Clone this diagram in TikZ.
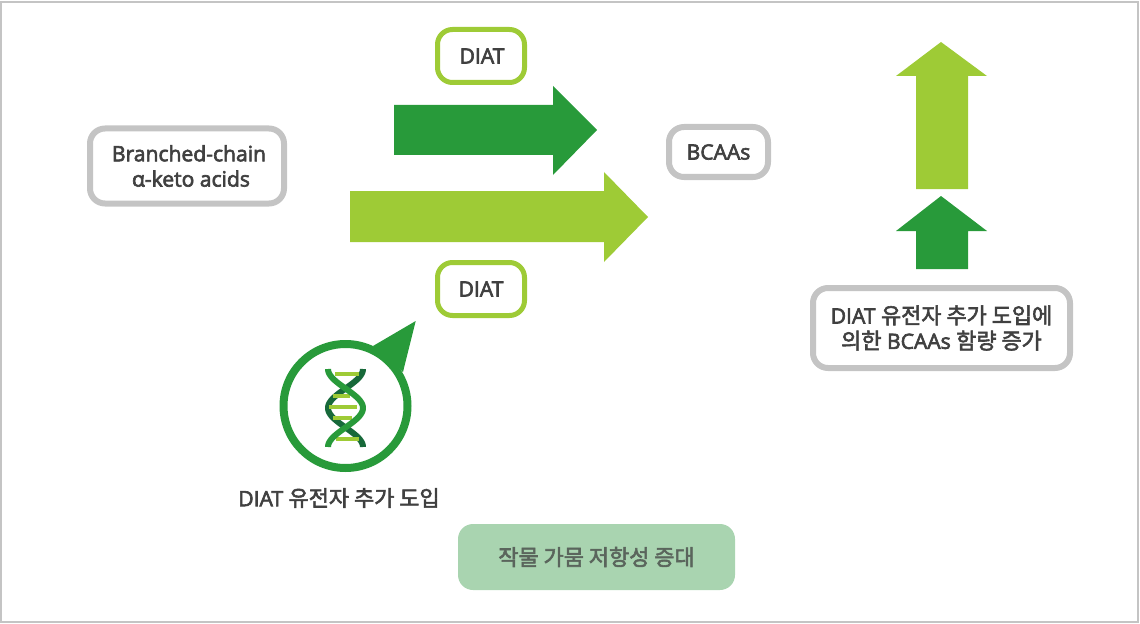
\documentclass[tikz,border=0pt]{standalone}
\usepackage{fontspec}
\setmainfont{Open Sans}[FakeBold=3]
\newfontfamily\krfont{Noto Sans CJK KR}[FakeBold=2.6]
\usetikzlibrary{positioning}
\definecolor{figgray}{HTML}{C4C4C4}
\definecolor{figlime}{HTML}{9ECB36}
\definecolor{figgreen}{HTML}{289A3A}
\definecolor{figdark}{HTML}{17693A}
\definecolor{figpale}{HTML}{A9D4B0}
\definecolor{figtext}{HTML}{404040}
\def\px{0.025cm}
\newcommand{\kr}[1]{{\krfont\fontsize{15.6}{18}\selectfont #1}}
\tikzset{
  figbox/.style={draw=figgray, line width=6*\px, rounded corners=15*\px, align=center, fill=white,
    text=figtext, inner sep=0pt, font=\fontsize{15}{18}\selectfont},
  limebox/.style={figbox, draw=figlime, line width=5*\px, minimum width=87*\px, minimum height=53*\px},
  figlabel/.style={text=figtext, inner sep=0pt, font=\fontsize{15}{18}\selectfont},
  bigdark/.style={fill=figgreen},
  biglime/.style={fill=figlime},
}
\begin{document}
\begin{tikzpicture}[x=\px, y=-\px]
  \useasboundingbox (0,0) rectangle (1140,624);
  \draw[figgray, line width=2*\px] (1.5,2.5) rectangle (1138,622);
  % boxes
  \node[figbox, minimum width=194*\px, minimum height=75*\px] (keto) at (187,166) {\hspace*{0.1cm}Branched-chain\\ \hspace*{0.2cm}α-keto acids};
  \node[limebox] (diattop) at (481,56) {\hspace*{0.05cm}DIAT};
  \node[limebox] (diatlow) at (481,289) {DIAT};
  \node[figbox, minimum width=99*\px, minimum height=50*\px] (bcaa) at (718.5,152) {BCAAs};
  \node[figbox, minimum width=257*\px, minimum height=80*\px] (result) at (941.5,328) {DIAT \kr{유전자 추가 도입에}\\\kr{의한} BCAAs \kr{함량 증가}};
  \node[fill=figpale, rounded corners=15*\px, minimum width=277*\px, minimum height=66*\px, inner sep=0pt,
    text=figtext!75!figpale] (drought) at (596.5,557) {\kr{작물 가뭄 저항성 증대}};
  % arrows
  \fill[bigdark] (394,105) -- (553,105) -- (553,86) -- (597,130) -- (553,175) -- (553,155) -- (394,155) -- cycle;
  \fill[biglime] (350,191) -- (604,191) -- (604,172) -- (648,217) -- (604,262) -- (604,242) -- (350,242) -- cycle;
  \fill[biglime] (916,189) -- (916,76) -- (896,76) -- (941,42) -- (987,76) -- (968,76) -- (968,189) -- cycle;
  \fill[bigdark] (916,269) -- (916,231) -- (896,231) -- (941,196) -- (987,231) -- (968,231) -- (968,269) -- cycle;
  % gene
  \node[circle, draw=figgreen, line width=8*\px, minimum size=124*\px, inner sep=0pt] (gene) at (345.5,406) {};
  \fill[bigdark] (373,346) -- (415.7,321) -- (403,372) -- cycle;
  \draw[figdark, line width=6*\px] plot[domain=369:447, samples=60] ({345.5+17.5*cos(4.615*(\x-369))},\x);
  \foreach \ya/\xa/\xb in {374/335/359, 396/333/350, 407/329/357, 418/333/352, 439/336/359}
    \draw[figlime, line width=3.2*\px] (\xa,\ya) -- (\xb,\ya);
  \draw[figgreen, line width=6*\px] plot[domain=369:447, samples=60] ({345.5-17.5*cos(4.615*(\x-369))},\x);
  \node[figlabel] (genelabel) at (339,498) {DIAT \kr{유전자 추가 도입}};
\end{tikzpicture}
\end{document}
